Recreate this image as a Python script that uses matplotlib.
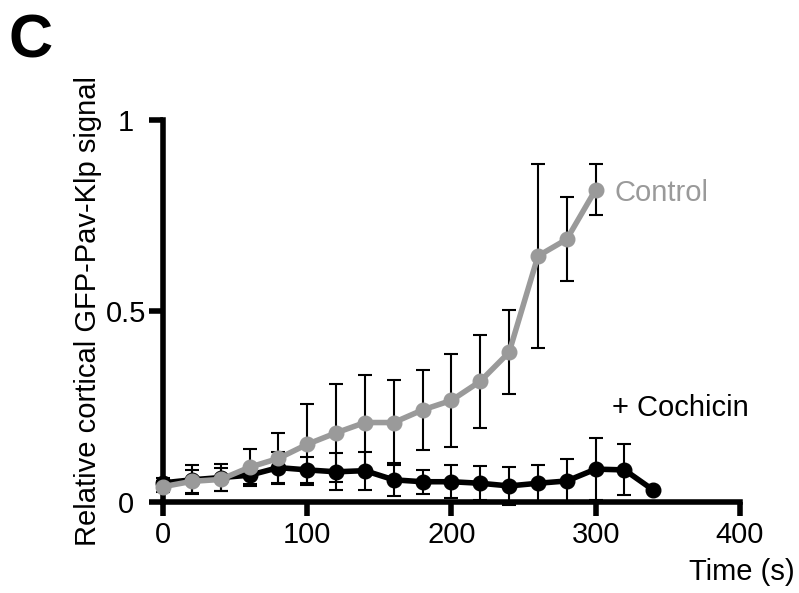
import matplotlib
matplotlib.use('Agg')
import matplotlib.pyplot as plt

plt.rcParams['font.family'] = ['Liberation Sans', 'DejaVu Sans']

time = [0, 20, 40, 60, 80, 100, 120, 140, 160, 180, 200, 220, 240, 260, 280, 300, 320, 340]

control_time = time[:16]
control_mean = [0.040, 0.054, 0.059, 0.091, 0.114, 0.151, 0.181, 0.208, 0.208, 0.241,
                0.266, 0.316, 0.392, 0.644, 0.688, 0.818]
control_sd = [0.015, 0.03, 0.03, 0.048, 0.067, 0.106, 0.128, 0.124, 0.112, 0.105,
              0.122, 0.122, 0.11, 0.241, 0.11, 0.067]

colch_time = time
colch_mean = [0.050, 0.058, 0.064, 0.070, 0.090, 0.084, 0.079, 0.082, 0.058, 0.053,
              0.053, 0.049, 0.042, 0.049, 0.055, 0.086, 0.084, 0.031]
colch_sd = [0.012, 0.038, 0.036, 0.022, 0.040, 0.034, 0.048, 0.050, 0.043, 0.031,
            0.043, 0.045, 0.049, 0.048, 0.057, 0.081, 0.067, 0.0]

fig = plt.figure(figsize=(7.99, 5.93), dpi=100)
ax = fig.add_axes([0.204, 0.1535, 0.722, 0.644])

grey = '#9a9a9a'

ax.errorbar(colch_time, colch_mean, yerr=colch_sd, fmt='none', ecolor='black',
            elinewidth=1.5, capsize=5, capthick=1.5, clip_on=False, zorder=2)
ax.errorbar(control_time, control_mean, yerr=control_sd, fmt='none', ecolor='black',
            elinewidth=1.5, capsize=5, capthick=1.5, clip_on=False, zorder=2)
ax.plot(colch_time, colch_mean, '-o', color='black', lw=4, markersize=10.5,
        clip_on=False, zorder=3)
ax.plot(control_time, control_mean, '-o', color=grey, lw=4, markersize=10.5,
        clip_on=False, zorder=4)

ax.set_xlim(0, 400)
ax.set_ylim(0, 1)
ax.set_xticks([0, 100, 200, 300, 400])
ax.set_yticks([0, 0.5, 1])
ax.set_yticklabels(['0', '0.5', '1'], ha='center')

for s in ['top', 'right']:
    ax.spines[s].set_visible(False)
for s in ['left', 'bottom']:
    ax.spines[s].set_linewidth(4)
ax.tick_params(direction='out', length=10, width=4, labelsize=21)
ax.tick_params(axis='x', pad=4)
ax.tick_params(axis='y', pad=16.5)

ax.set_ylabel('Relative cortical GFP-Pav-Klp signal', fontsize=21, labelpad=3)
fig.text(0.995, 0.022, 'Time (s)', fontsize=21, ha='right', va='baseline')

ax.text(313, 0.81, 'Control', color=grey, fontsize=21, va='center')
ax.text(311, 0.245, '+ Cochicin', color='black', fontsize=21, va='center')

fig.text(0.011, 0.978, 'C', fontsize=44, fontweight='bold', va='top', ha='left')

fig.savefig('out.png', dpi=100)
